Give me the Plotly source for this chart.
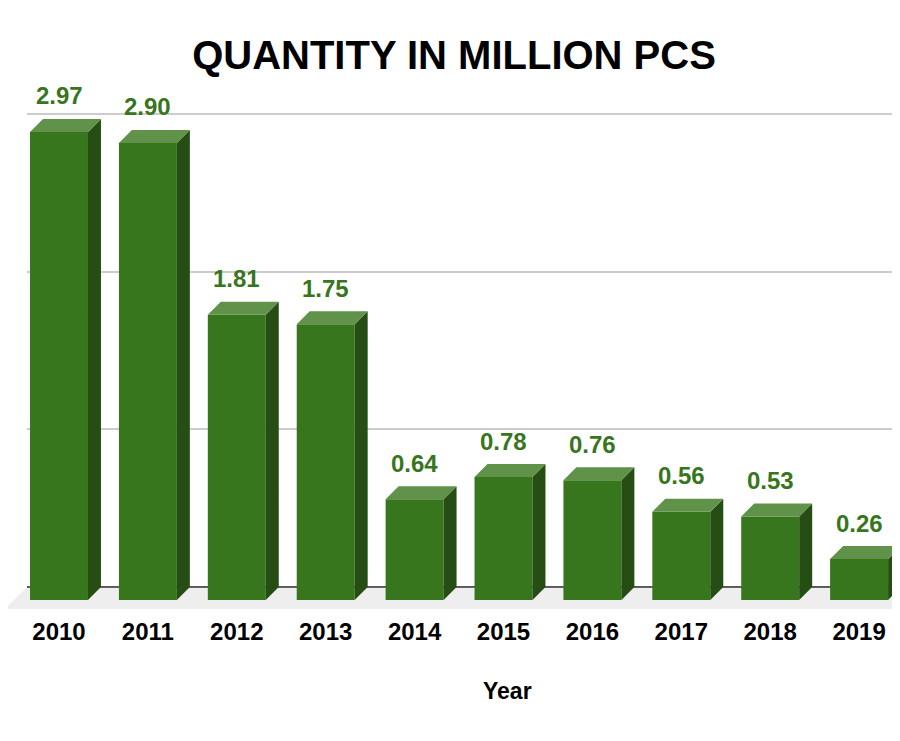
import plotly.graph_objects as go

years  = ['2010', '2011', '2012', '2013', '2014', '2015', '2016', '2017', '2018', '2019']
values = [2.97, 2.90, 1.81, 1.75, 0.64, 0.78, 0.76, 0.56, 0.53, 0.26]

FRONT = '#38761d'
TOP   = '#60924a'
SIDE  = '#264d13'
FONT  = 'Liberation Sans, Arial, sans-serif'

# 3D look: bar width and depth offsets, in axis units
W, DX, DY = 0.652, 0.146, 0.0825
X_RANGE = [-0.5737, 9.46]
Y_RANGE = [-0.1777, 3.122]
GRID_X0 = -0.36        # back-left edge of the floor / grid
FLOOR_Y = -0.14
FLOOR_DX = 0.2475

idx = list(range(len(years)))
h = W / 2

front_x, front_y, top_x, top_y, side_x, side_y = [], [], [], [], [], []
for i, v in zip(idx, values):
    front_x += [i - h, i + h, i + h, i - h, i - h, None]
    front_y += [-DY, -DY, v - DY, v - DY, -DY, None]
    top_x += [i - h, i + h, i + h + DX, i - h + DX, i - h, None]
    top_y += [v - DY, v - DY, v, v, v - DY, None]
    side_x += [i + h, i + h + DX, i + h + DX, i + h, i + h, None]
    side_y += [-DY, 0, v, v - DY, -DY, None]

fig = go.Figure()

# invisible trace so the grid subplot exists
fig.add_trace(go.Scatter(x=[0], y=[0], mode='markers', marker=dict(opacity=0),
                         hoverinfo='skip', showlegend=False, xaxis='x', yaxis='y'))

# floor
fig.add_trace(go.Scatter(
    x=[GRID_X0, X_RANGE[1] + 1, X_RANGE[1] + 1, GRID_X0 - FLOOR_DX, GRID_X0],
    y=[0, 0, FLOOR_Y, FLOOR_Y, 0],
    fill='toself', fillcolor='#eeeeee', mode='lines', line=dict(width=0),
    hoverinfo='skip', showlegend=False, xaxis='x2', yaxis='y2'))

# base line
fig.add_trace(go.Scatter(
    x=[GRID_X0, X_RANGE[1] + 1], y=[0, 0], mode='lines',
    line=dict(color='#333333', width=1.6),
    hoverinfo='skip', showlegend=False, xaxis='x2', yaxis='y2'))

for xs, ys, col in [(front_x, front_y, FRONT), (side_x, side_y, SIDE), (top_x, top_y, TOP)]:
    fig.add_trace(go.Scatter(
        x=xs, y=ys, fill='toself', fillcolor=col, mode='lines',
        line=dict(width=0, color=col), hoverinfo='skip', showlegend=False,
        xaxis='x2', yaxis='y2'))

for i, v in zip(idx, values):
    fig.add_annotation(
        x=i, y=v, xref='x2', yref='y2', text=f'<b>{v:.2f}</b>',
        showarrow=False, yanchor='middle', yshift=23,
        font=dict(family=FONT, size=24, color=FRONT))

fig.add_annotation(
    x=0.5605, y=-0.146, xref='paper', yref='paper', text='<b>Year</b>',
    showarrow=False, xanchor='center', yanchor='middle',
    font=dict(family=FONT, size=23, color='#000000'))

fig.update_layout(
    width=892, height=712,
    margin=dict(l=0, r=0, t=87, b=105),
    paper_bgcolor='white', plot_bgcolor='rgba(0,0,0,0)',
    title=dict(text='<b>QUANTITY IN MILLION PCS</b>', x=0.5, xanchor='center',
               y=1 - 47 / 712, yanchor='middle',
               font=dict(family=FONT, size=40, color='#000000')),
    showlegend=False,
    xaxis=dict(domain=[19 / 892, 1], anchor='y', visible=False, range=[0, 1]),
    yaxis=dict(domain=[0, 1], anchor='x', range=Y_RANGE, showgrid=True,
               gridcolor='#cccccc', gridwidth=1.6, tick0=0, dtick=1,
               showticklabels=False, zeroline=False, showline=False, ticks=''),
    xaxis2=dict(domain=[0, 1], anchor='y2', range=X_RANGE, tickvals=idx,
                ticktext=[f'<b>{y}</b>' for y in years], showgrid=False,
                zeroline=False, showline=False, ticks='',
                tickfont=dict(family=FONT, size=24, color='#000000')),
    yaxis2=dict(domain=[0, 1], anchor='x2', range=Y_RANGE, visible=False),
)

fig.write_html('out.html')
